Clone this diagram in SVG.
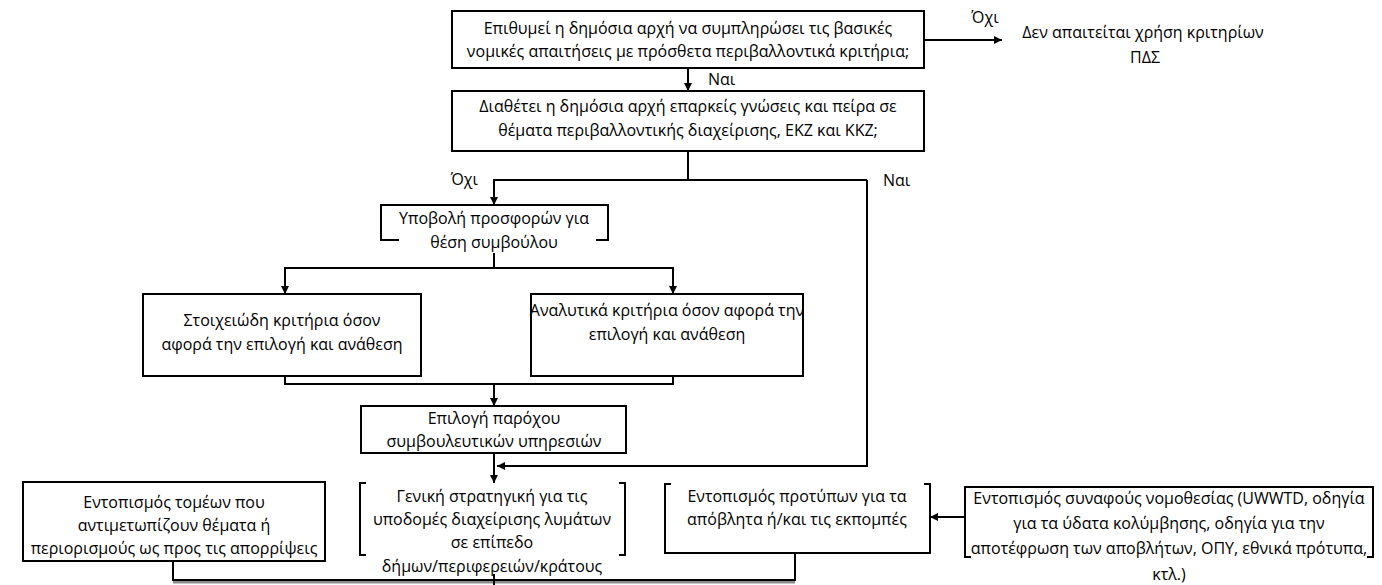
<svg xmlns="http://www.w3.org/2000/svg" width="1382" height="585" viewBox="0 0 1382 585">
<defs>
<style>
.box{fill:#fff;stroke:#000;stroke-width:2}
.bg{fill:#fff;stroke:none}
.t{font-family:"Open Sans","Noto Sans",sans-serif;font-size:16px;fill:#000;text-anchor:middle}
.l{font-family:"Open Sans","Noto Sans",sans-serif;font-size:16px;fill:#000}
.c{fill:none;stroke:#000;stroke-width:2}
.cg{fill:none;stroke:#8a8a8a;stroke-width:3}
</style>
<marker id="ah" viewBox="0 0 10 10" refX="10" refY="5" markerWidth="8" markerHeight="8" markerUnits="userSpaceOnUse" orient="auto">
<path d="M0,0 L10,5 L0,10 z" fill="#000"/>
</marker>
</defs>
<rect width="1382" height="585" fill="#fff"/>

<g id="n1">
<rect class="box" x="452" y="11" width="472" height="57"/>
<text class="t" x="688" y="34">Επιθυμεί η δημόσια αρχή να συμπληρώσει τις βασικές</text>
<text class="t" x="688" y="57">νομικές απαιτήσεις με πρόσθετα περιβαλλοντικά κριτήρια;</text>
</g>
<g id="n_no_criteria">
<text class="t" x="1143" y="38">Δεν απαιτείται χρήση κριτηρίων</text>
<text class="t" x="1145" y="63">ΠΔΣ</text>
</g>
<g id="n2">
<rect class="box" x="452" y="91" width="472" height="60"/>
<text class="t" x="688" y="112">Διαθέτει η δημόσια αρχή επαρκείς γνώσεις και πείρα σε</text>
<text class="t" x="688" y="136">θέματα περιβαλλοντικής διαχείρισης, ΕΚΖ και ΚΚΖ;</text>
</g>
<g id="n3">
<rect class="box" x="381" y="205" width="227" height="35"/>
<rect class="bg" x="399" y="208" width="197" height="45"/>
<text class="t" x="494" y="224">Υποβολή προσφορών για</text>
<text class="t" x="494" y="248">θέση συμβούλου</text>
</g>
<g id="n4">
<rect class="box" x="143" y="294" width="278" height="82"/>
<text class="t" x="282" y="326">Στοιχειώδη κριτήρια όσον</text>
<text class="t" x="282" y="350">αφορά την επιλογή και ανάθεση</text>
</g>
<g id="n5">
<rect class="box" x="531" y="294" width="272" height="82"/>
<text class="t" x="667" y="316">Αναλυτικά κριτήρια όσον αφορά την</text>
<text class="t" x="667" y="340">επιλογή και ανάθεση</text>
</g>
<g id="n6">
<rect class="box" x="361" y="406" width="265" height="47"/>
<text class="t" x="494" y="424">Επιλογή παρόχου</text>
<text class="t" x="494" y="447">συμβουλευτικών υπηρεσιών</text>
</g>
<g id="n7">
<rect class="box" x="23" y="482" width="302" height="79"/>
<text class="t" x="174" y="508">Εντοπισμός τομέων που</text>
<text class="t" x="174" y="531">αντιμετωπίζουν θέματα ή</text>
<text class="t" x="174" y="554">περιορισμούς ως προς τις απορρίψεις</text>
</g>
<g id="n8">
<rect class="box" x="360" y="483" width="265" height="72"/>
<rect class="bg" x="366" y="480" width="253" height="94"/>
<text class="t" x="492" y="502">Γενική στρατηγική για τις</text>
<text class="t" x="492" y="525">υποδομές διαχείρισης λυμάτων</text>
<text class="t" x="492" y="548">σε επίπεδο</text>
<text class="t" x="492" y="572">δήμων/περιφερειών/κράτους</text>
</g>
<g id="n9">
<rect class="box" x="665" y="484" width="265" height="69"/>
<rect class="bg" x="671" y="481" width="253" height="49"/>
<text class="t" x="797" y="502">Εντοπισμός προτύπων για τα</text>
<text class="t" x="797" y="525">απόβλητα ή/και τις εκπομπές</text>
</g>
<g id="n10">
<rect class="box" x="965" y="487" width="408" height="70"/>
<rect class="bg" x="971" y="530" width="396" height="55"/>
<text class="t" x="1169" y="504">Εντοπισμός συναφούς νομοθεσίας (UWWTD, οδηγία</text>
<text class="t" x="1169" y="529">για τα ύδατα κολύμβησης, οδηγία για την</text>
<text class="t" x="1169" y="554">αποτέφρωση των αποβλήτων, ΟΠΥ, εθνικά πρότυπα,</text>
<text class="t" x="1169" y="580">κτλ.)</text>
</g>

<g id="connectors">
<line class="c" x1="924" y1="40" x2="1002" y2="40" marker-end="url(#ah)"/>
<line class="c" x1="688" y1="68" x2="688" y2="91" marker-end="url(#ah)"/>
<polyline class="c" points="688,151 688,180"/>
<polyline class="c" points="867,180 494,180 494,205" marker-end="url(#ah)"/>
<polyline class="c" points="867,180 867,466 497,466" marker-end="url(#ah)"/>
<line class="c" x1="494" y1="253" x2="494" y2="268"/>
<polyline class="c" points="494,268 285,268 285,294" marker-end="url(#ah)"/>
<polyline class="c" points="494,268 673,268 673,294" marker-end="url(#ah)"/>
<polyline class="c" points="285,376 285,384 673,384 673,376"/>
<line class="c" x1="494" y1="384" x2="494" y2="406" marker-end="url(#ah)"/>
<line class="c" x1="494" y1="453" x2="494" y2="483" marker-end="url(#ah)"/>
<line class="c" x1="965" y1="517" x2="930" y2="517" marker-end="url(#ah)"/>
<polyline class="cg" points="173,582 795,582"/>
<polyline class="c" points="173,561 173,580 795,580 795,553"/>
<line class="c" x1="494" y1="574" x2="494" y2="585"/>
</g>

<g id="labels">
<rect class="bg" x="703" y="70" width="40" height="19"/>
<text class="l" x="708" y="85">Ναι</text>
<text class="t" x="985" y="23">Όχι</text>
<text class="l" x="478" y="185" text-anchor="end">Όχι</text>
<text class="l" x="883" y="186">Ναι</text>
</g>
</svg>
